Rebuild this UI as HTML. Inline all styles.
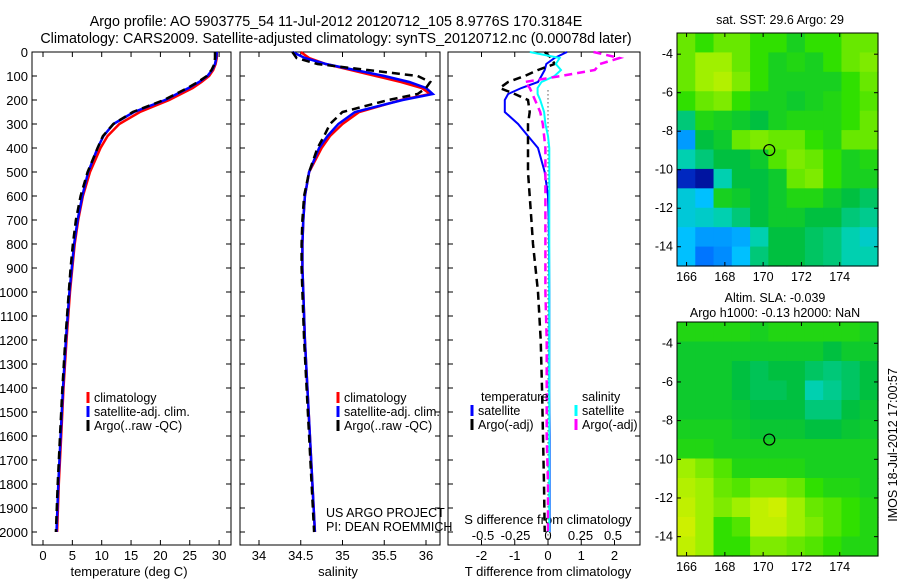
<!DOCTYPE html>
<html><head><meta charset="utf-8">
<style>
body{margin:0;background:#fff;}
svg{display:block;font-family:"Liberation Sans",sans-serif;}
</style></head>
<body>
<svg id="fig" width="900" height="580" viewBox="0 0 900 580">
<text x="336" y="26" font-size="14.3" text-anchor="middle">Argo profile: AO 5903775_54 11-Jul-2012 20120712_105 8.9776S 170.3184E</text>
<text x="336" y="43" font-size="14.3" text-anchor="middle">Climatology: CARS2009. Satellite-adjusted climatology: synTS_20120712.nc (0.00078d later)</text>
<text x="780" y="24" font-size="12.5" text-anchor="middle">sat. SST: 29.6 Argo: 29</text>
<text x="775" y="302" font-size="12.5" text-anchor="middle">Altim. SLA: -0.039</text>
<text x="775" y="317" font-size="12.5" text-anchor="middle">Argo h1000: -0.13 h2000: NaN</text>
<text transform="translate(897,445) rotate(-90)" font-size="12.5" text-anchor="middle">IMOS 18-Jul-2012 17:00:57</text>
<g id="g"></g>
</svg>
<script>
const depths=[0,25,50,75,100,125,150,175,200,250,300,350,400,500,600,700,800,900,1000,1200,1400,1600,1800,2000];
const tClim=[29.6,29.6,29.4,29,28.3,27,25.5,23.5,21.5,16.5,13,11,9.8,8,6.8,6,5.4,5,4.6,4,3.5,3.1,2.7,2.4];
const tSat=[29.6,29.5,29.3,28.8,28,26.6,24.8,22.8,20.8,15.5,12,10.3,9.3,7.7,6.7,5.9,5.3,4.9,4.5,3.9,3.4,3.0,2.6,2.3];
const tArgo=[29.3,29.3,29.2,28.7,27.9,26.4,24.6,22.6,20.6,15.3,12,10.2,9.3,7.6,6.4,5.6,5.1,4.7,4.4,3.8,3.3,2.9,2.5,2.2];
const sClim=[34.5,34.6,34.8,35.1,35.4,35.7,35.95,36.05,35.7,35.2,35.0,34.85,34.75,34.6,34.55,34.53,34.52,34.52,34.53,34.55,34.58,34.61,34.64,34.67];
const sSat=[34.4,34.55,34.8,35.15,35.5,35.8,36.0,36.08,35.72,35.15,34.95,34.82,34.72,34.6,34.55,34.53,34.52,34.52,34.53,34.55,34.58,34.61,34.64,34.67];
const sArgo=[34.4,34.45,34.7,35.3,35.9,36.05,36.0,35.9,35.55,35.0,34.85,34.78,34.7,34.6,34.54,34.52,34.51,34.51,34.52,34.54,34.57,34.6,34.63,34.66];
const dDepths=[0,25,50,75,100,125,150,175,200,250,300,350,400,500,600,700,800,1000,1200,1400,1600,1800,2000];
const dTsat=[0.57,0.2,-0.05,-0.1,-0.2,-0.3,-0.8,-1.2,-1.3,-1.3,-0.9,-0.6,-0.3,-0.1,0,0.02,0.03,0.04,0.04,0.04,0.05,0.05,0.05];
const dTargo=[-0.1,0.1,0.2,-0.3,-0.7,-1.2,-1.45,-1.0,-0.6,-0.55,-0.6,-0.6,-0.6,-0.6,-0.55,-0.5,-0.45,-0.3,-0.22,-0.18,-0.15,-0.12,-0.1];
const dSsat=[-0.14,0.09,0.06,0.1,0.05,-0.05,-0.08,-0.08,-0.06,-0.03,-0.02,0,0.01,0.01,0.01,0.01,0.01,0.01,0.01,0.01,0.01,0.01,0.01];
const dSargo=[0.35,0.55,0.4,0.36,0.1,-0.18,-0.14,-0.12,-0.1,-0.06,-0.04,-0.03,-0.02,-0.02,-0.02,-0.02,-0.02,-0.02,-0.01,-0.01,-0.01,0,0];
const depthTicks=[0,100,200,300,400,500,600,700,800,900,1000,1100,1200,1300,1400,1500,1600,1700,1800,1900,2000];
const tTicks=[0,5,10,15,20,25,30];
const sTicks=[34,34.5,35,35.5,36];
const sTickLabels=["34","34.5","35","35.5","36"];
const dTTicks=[-2,-1,0,1,2];
const dSTicks=[-0.5,-0.25,0,0.25,0.5];
const mapLon=[165.5,176];
const sst=[
[0.7,0.65,0.7,0.7,0.65,0.65,0.6,0.65,0.65,0.7,0.7],
[0.7,0.75,0.75,0.7,0.65,0.6,0.62,0.6,0.65,0.7,0.72],
[0.7,0.75,0.78,0.72,0.65,0.6,0.6,0.6,0.6,0.65,0.7],
[0.65,0.7,0.72,0.65,0.6,0.6,0.58,0.6,0.62,0.65,0.68],
[0.5,0.62,0.6,0.58,0.55,0.6,0.62,0.62,0.62,0.65,0.7],
[0.3,0.55,0.58,0.7,0.72,0.7,0.7,0.65,0.62,0.7,0.7],
[0.45,0.5,0.55,0.55,0.58,0.68,0.72,0.7,0.65,0.6,0.62],
[0.1,0.05,0.45,0.55,0.55,0.58,0.7,0.72,0.65,0.6,0.6],
[0.4,0.35,0.6,0.58,0.55,0.58,0.62,0.62,0.58,0.55,0.52],
[0.4,0.42,0.45,0.5,0.55,0.58,0.58,0.55,0.55,0.5,0.48],
[0.35,0.3,0.3,0.32,0.45,0.55,0.55,0.52,0.5,0.45,0.42],
[0.35,0.25,0.28,0.35,0.5,0.55,0.55,0.52,0.5,0.45,0.45]];
const sla=[
[0.62,0.62,0.62,0.62,0.6,0.62,0.62,0.62,0.62,0.62,0.6],
[0.58,0.58,0.58,0.58,0.58,0.58,0.58,0.58,0.55,0.58,0.58],
[0.58,0.58,0.58,0.55,0.53,0.55,0.55,0.52,0.5,0.52,0.55],
[0.58,0.58,0.58,0.55,0.53,0.53,0.55,0.45,0.48,0.52,0.55],
[0.58,0.58,0.58,0.57,0.55,0.55,0.55,0.5,0.5,0.55,0.57],
[0.6,0.6,0.6,0.58,0.57,0.57,0.57,0.55,0.55,0.57,0.58],
[0.62,0.62,0.6,0.6,0.6,0.6,0.6,0.6,0.6,0.6,0.6],
[0.75,0.72,0.68,0.62,0.62,0.62,0.62,0.6,0.6,0.6,0.6],
[0.78,0.75,0.7,0.68,0.72,0.72,0.7,0.65,0.62,0.62,0.6],
[0.8,0.75,0.72,0.75,0.8,0.82,0.75,0.7,0.68,0.65,0.62],
[0.82,0.75,0.65,0.68,0.8,0.8,0.75,0.72,0.68,0.65,0.62],
[0.8,0.75,0.65,0.65,0.72,0.72,0.7,0.68,0.65,0.62,0.62]];
const lonTicks=[166,168,170,172,174];
const latTicks=[-4,-6,-8,-10,-12,-14];
const argoPos=[170.32,-8.98];

const NS="http://www.w3.org/2000/svg";
const G=document.getElementById('g');
function mk(tag,attrs,parent){const e=document.createElementNS(NS,tag);for(const k in attrs)e.setAttribute(k,attrs[k]);(parent||G).appendChild(e);return e;}
const TOP=52,PXM=0.24,BOT=545;
const yD=d=>TOP+d*PXM;
const panels=[
 {x0:32,x1:231,fx:v=>43+v*5.87,name:'temperature-panel'},
 {x0:240,x1:440,fx:v=>259+(v-34)*83.5,name:'salinity-panel'},
 {x0:448,x1:640,fx:v=>548+v*33.25,name:'difference-panel'}];
const fS=v=>548+v*130;
function txt(x,y,s,size,anchor,name){const t=mk('text',{x:x,y:y,'font-size':size,'text-anchor':anchor||'start'});t.textContent=s;return t;}
function line(xs,ds,fx,color,w,dash,name){
 let d='';for(let i=0;i<xs.length;i++)d+=(i?'L':'M')+fx(xs[i]).toFixed(1)+','+yD(ds[i]).toFixed(1);
 const p=mk('path',{d:d,fill:'none',stroke:color,'stroke-width':w});
 if(dash)p.setAttribute('stroke-dasharray',dash);
 }
panels.forEach((p,pi)=>{
 const r=mk('rect',{x:p.x0,y:TOP,width:p.x1-p.x0,height:BOT-TOP,fill:'none',stroke:'#000','stroke-width':1});
 
 depthTicks.forEach(d=>{mk('line',{x1:p.x0,x2:p.x0+5,y1:yD(d),y2:yD(d),stroke:'#000'});mk('line',{x1:p.x1,x2:p.x1-5,y1:yD(d),y2:yD(d),stroke:'#000'});
  if(pi==0)txt(p.x0-4,yD(d)+5,String(d),13,'end','depth-tick-label');});
});
tTicks.forEach(v=>{const x=panels[0].fx(v);mk('line',{x1:x,x2:x,y1:BOT,y2:BOT-5,stroke:'#000'});mk('line',{x1:x,x2:x,y1:TOP,y2:TOP+5,stroke:'#000'});txt(x,560,String(v),13,'middle','temp-tick-label');});
txt(129,576,'temperature (deg C)',13,'middle','temp-axis-title');
sTicks.forEach((v,i)=>{const x=panels[1].fx(v);mk('line',{x1:x,x2:x,y1:BOT,y2:BOT-5,stroke:'#000'});mk('line',{x1:x,x2:x,y1:TOP,y2:TOP+5,stroke:'#000'});txt(x,560,sTickLabels[i],13,'middle','sal-tick-label');});
txt(338,576,'salinity',13,'middle','sal-axis-title');
dTTicks.forEach(v=>{const x=panels[2].fx(v);mk('line',{x1:x,x2:x,y1:BOT,y2:BOT-5,stroke:'#000'});mk('line',{x1:x,x2:x,y1:TOP,y2:TOP+5,stroke:'#000'});txt(x,560,String(v),13,'middle','dT-tick-label');});
dSTicks.forEach(v=>{txt(fS(v),540,String(v),13,'middle','dS-tick-label');});
txt(548,524,'S difference from climatology',13,'middle','dS-axis-title');
txt(548,576,'T difference from climatology',13,'middle','dT-axis-title');
mk('line',{x1:548,x2:548,y1:yD(160),y2:BOT,stroke:'#000','stroke-dasharray':'1,3'});
line(tClim,depths,panels[0].fx,'#f00',2.5,null,'temp-climatology-line');
line(tSat,depths,panels[0].fx,'#00f',2.5,null,'temp-satellite-line');
line(tArgo,depths,panels[0].fx,'#000',2.5,'8,5','temp-argo-line');
line(sClim,depths,panels[1].fx,'#f00',2.5,null,'sal-climatology-line');
line(sSat,depths,panels[1].fx,'#00f',2.5,null,'sal-satellite-line');
line(sArgo,depths,panels[1].fx,'#000',2.5,'8,5','sal-argo-line');
line(dTsat,dDepths,panels[2].fx,'#00f',2,null,'dT-satellite-line');
line(dTargo,dDepths,panels[2].fx,'#000',2.5,'8,5','dT-argo-line');
line(dSsat,dDepths,fS,'#0ff',2,null,'dS-satellite-line');
line(dSargo,dDepths,fS,'#f0f',2.5,'8,5','dS-argo-line');
function leg(x,y,color,label,name){const l=mk('line',{x1:x,x2:x,y1:y-10,y2:y+1,stroke:color,'stroke-width':3});txt(x+6,y,label,12.5,'start',name);}
[88,338].forEach(x=>{
 leg(x,402,'#f00','climatology','legend-climatology');leg(x,416,'#00f','satellite-adj. clim.','legend-satellite');leg(x,430,'#000','Argo(..raw -QC)','legend-argo');});
txt(481,401,'temperature',12.5,'start','legend-temperature-header');
txt(582,401,'salinity',12.5,'start','legend-salinity-header');
leg(472,415,'#00f','satellite','legend-dT-satellite');leg(472,429,'#000','Argo(-adj)','legend-dT-argo');
leg(576,415,'#0ff','satellite','legend-dS-satellite');leg(576,429,'#f0f','Argo(-adj)','legend-dS-argo');
txt(326,517,'US ARGO PROJECT',12.5,'start','project-label');
txt(326,531,'PI: DEAN ROEMMICH',12.5,'start','pi-label');
const stops=[[0,[0,0,128]],[0.2,[0,80,255]],[0.35,[0,192,255]],[0.45,[0,208,176]],[0.55,[0,192,64]],[0.65,[48,224,0]],[0.75,[160,240,0]],[0.85,[224,240,0]],[1,[255,224,0]]];
function cmap(v){for(let i=1;i<stops.length;i++){if(v<=stops[i][0]){const a=stops[i-1],b=stops[i],t=(v-a[0])/(b[0]-a[0]);return 'rgb('+a[1].map((c,k)=>Math.round(c+(b[1][k]-c)*t)).join(',')+')';}}return 'rgb(255,224,0)';}
function drawMap(grid,X0,X1,Y0,Y1,latTop,latBot,name){
 const fx=lon=>X0+(lon-mapLon[0])/(mapLon[1]-mapLon[0])*(X1-X0);
 const fy=lat=>Y0+(latTop-lat)/(latTop-latBot)*(Y1-Y0);
 const rows=grid.length,cols=grid[0].length,cw=(X1-X0)/cols,ch=(Y1-Y0)/rows;
 grid.forEach((row,r)=>row.forEach((v,c)=>{const e=mk('rect',{x:X0+c*cw,y:Y0+r*ch,width:cw+0.6,height:ch+0.6,fill:cmap(v)});
  }));
 const f=mk('rect',{x:X0,y:Y0,width:X1-X0,height:Y1-Y0,fill:'none',stroke:'#000'});
 
 lonTicks.forEach(l=>{const x=fx(l);mk('line',{x1:x,x2:x,y1:Y1,y2:Y1-4,stroke:'#000'});mk('line',{x1:x,x2:x,y1:Y0,y2:Y0+4,stroke:'#000'});txt(x,Y1+15,String(l),12.5,'middle',name+'-lon-label');});
 latTicks.forEach(l=>{const y=fy(l);mk('line',{x1:X0,x2:X0+4,y1:y,y2:y,stroke:'#000'});mk('line',{x1:X1,x2:X1-4,y1:y,y2:y,stroke:'#000'});txt(X0-4,y+4,String(l),12.5,'end',name+'-lat-label');});
 const c=mk('circle',{cx:fx(argoPos[0]),cy:fy(argoPos[1]),r:5.5,fill:'none',stroke:'#000','stroke-width':1.2});
 }
drawMap(sst,677,878,33,266,-2.9,-15,'sst-map');
drawMap(sla,677,878,322,556,-2.9,-15,'sla-map');
</script>
</body></html>
